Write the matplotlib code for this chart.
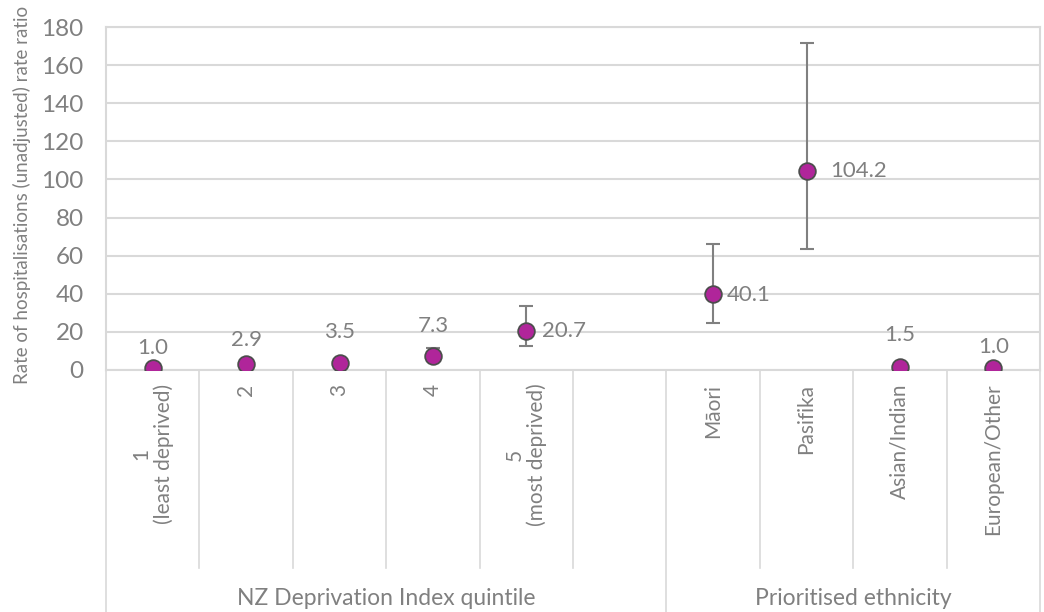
import numpy as np
import matplotlib.pyplot as plt
from matplotlib.transforms import blended_transform_factory

# data
quintiles = ['1\n(least deprived)', '2', '3', '4', '5\n(most deprived)', '']
ethnicities = ['Māori', 'Pasifika', 'Asian/Indian', 'European/Other']
groups = ['NZ Deprivation Index quintile', 'Prioritised ethnicity']

quintile_rr = [1.0, 2.9, 3.5, 7.3, 20.7]
quintile_lo = [1.0, 2.4, 2.9, 4.6, 12.8]
quintile_hi = [1.0, 3.5, 4.3, 11.6, 33.6]

ethnic_rr = [40.1, 104.2, 1.5, 1.0]
ethnic_lo = [24.5, 63.3, 1.1, 1.0]
ethnic_hi = [65.9, 171.8, 2.0, 1.0]

labels = quintiles + ethnicities
rr = quintile_rr + ethnic_rr
lo = quintile_lo + ethnic_lo
hi = quintile_hi + ethnic_hi
xpos = list(range(len(quintile_rr))) + [len(quintiles) + i for i in range(len(ethnicities))]

# label offsets in points (dx, dy), roughly as in the original
lab_off = [(0, 14.5), (0, 17.5), (0, 22.5), (0, 21.5), (11.5, 0), (10, -1), (17, 0), (0, 23), (0, 15)]

grey = '#808080'
gridc = '#d9d9d9'
fam = ['Lato', 'DejaVu Sans']

plt.rcParams['font.family'] = fam
fig = plt.figure(figsize=(10.44, 6.12), dpi=100)
ax = fig.add_axes([106 / 1044, 1 - 370 / 612, 934 / 1044, 343 / 612])

n = len(labels)
ax.set_xlim(-0.5, n - 0.5)
ax.set_ylim(0, 180)
ax.set_yticks(np.arange(0, 181, 20))
ax.yaxis.grid(True, color=gridc, linewidth=1.5)
ax.set_axisbelow(True)
for s in ax.spines.values():
    s.set_color(gridc)
    s.set_linewidth(1.5)
ax.tick_params(axis='y', length=0, pad=16, labelsize=17.5, labelcolor=grey)
ax.set_xticks([])

yerr = [np.array(rr) - np.array(lo), np.array(hi) - np.array(rr)]
ax.errorbar(xpos, rr, yerr=yerr, fmt='none', ecolor='#808080', elinewidth=1.5,
            capsize=5, capthick=1.5, zorder=3)
ax.plot(xpos, rr, 'o', markersize=12, markerfacecolor='#b0259a',
        markeredgecolor='#4d4d4d', markeredgewidth=1.3, linestyle='none', zorder=4)

for x, v, (dx, dy) in zip(xpos, rr, lab_off):
    ha = 'left' if dx > 0 else 'center'
    ax.annotate(f'{v:.1f}', (x, v), xytext=(dx, dy), textcoords='offset points',
                ha=ha, va='center', fontsize=16, color=grey)

# multi-level category axis
tr = blended_transform_factory(ax.transData, ax.transAxes)
inner_bottom = -(568 - 370) / 343
outer_bottom = -(612 - 370) / 343
for i in range(n + 1):
    xb = i - 0.5
    full = i in (0, len(quintiles), n)
    ax.plot([xb, xb], [0, outer_bottom if full else inner_bottom], transform=tr,
            color=gridc, linewidth=1.2, clip_on=False)

for i, lab in enumerate(labels):
    if lab:
        ax.text(i, -0.04, lab, transform=tr, rotation=90, ha='center', va='top',
                fontsize=15, color=grey, linespacing=1.1)

for k, (start, size) in enumerate([(0, len(quintiles)), (len(quintiles), len(ethnicities))]):
    ax.text(start + (size - 1) / 2, -0.665, groups[k], transform=tr, ha='center',
            va='center', fontsize=16.5, color=grey)

fig.text(22 / 1044, 1 - 195 / 612, 'Rate of hospitalisations (unadjusted) rate ratio', rotation=90,
         ha='center', va='center', fontsize=13.5, color=grey)

plt.savefig('out.png', dpi=100)
